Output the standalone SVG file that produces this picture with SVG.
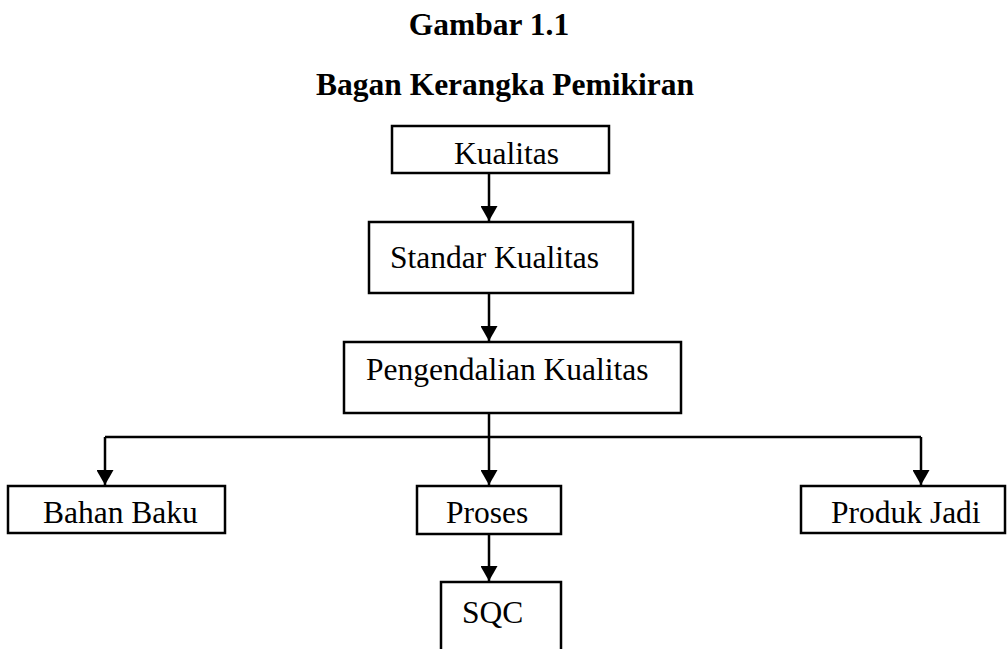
<svg xmlns="http://www.w3.org/2000/svg" width="1007" height="649" viewBox="0 0 1007 649">
<style>
.box{fill:#fff;stroke:#000;stroke-width:2.5}
.t{font-family:"Liberation Serif","Times New Roman",serif;font-size:31.5px;fill:#000}
.h{font-family:"Liberation Serif","Times New Roman",serif;font-size:31.5px;font-weight:bold;fill:#000;text-anchor:middle}
.c{fill:none;stroke:#000;stroke-width:2.5}
</style>
<defs>
<marker id="ar" markerUnits="userSpaceOnUse" markerWidth="16" markerHeight="17" refX="15" refY="8.5" orient="auto" viewBox="0 0 16 17">
<path d="M0,0 L15,8.5 L0,17 Z" fill="#000"/>
</marker>
</defs>
<text class="h" x="489" y="35">Gambar 1.1</text>
<text class="h" x="505" y="95">Bagan Kerangka Pemikiran</text>
<g id="connectors">
<path class="c" d="M489,173 V221" marker-end="url(#ar)"/>
<path class="c" d="M489,293 V341" marker-end="url(#ar)"/>
<path class="c" d="M489,413 V485" marker-end="url(#ar)"/>
<path class="c" d="M105,437 H921"/>
<path class="c" d="M105,437 V485" marker-end="url(#ar)"/>
<path class="c" d="M921,437 V485" marker-end="url(#ar)"/>
<path class="c" d="M489,534 V581" marker-end="url(#ar)"/>
</g>
<g id="kualitas"><rect class="box" x="392" y="126" width="217" height="47"/><text class="t" x="454" y="164">Kualitas</text></g>
<g id="standar"><rect class="box" x="369" y="222" width="264" height="71"/><text class="t" x="390" y="268">Standar Kualitas</text></g>
<g id="pengendalian"><rect class="box" x="344" y="342" width="337" height="71"/><text class="t" x="366" y="380">Pengendalian Kualitas</text></g>
<g id="bahan"><rect class="box" x="8" y="486" width="217" height="47"/><text class="t" x="43" y="523">Bahan Baku</text></g>
<g id="proses"><rect class="box" x="417" y="486" width="144" height="48"/><text class="t" x="446" y="523">Proses</text></g>
<g id="produk"><rect class="box" x="801" y="486" width="204" height="47"/><text class="t" x="831" y="523">Produk Jadi</text></g>
<g id="sqc"><rect class="box" x="441" y="582" width="120" height="80"/><text class="t" x="462" y="623">SQC</text></g>
</svg>
